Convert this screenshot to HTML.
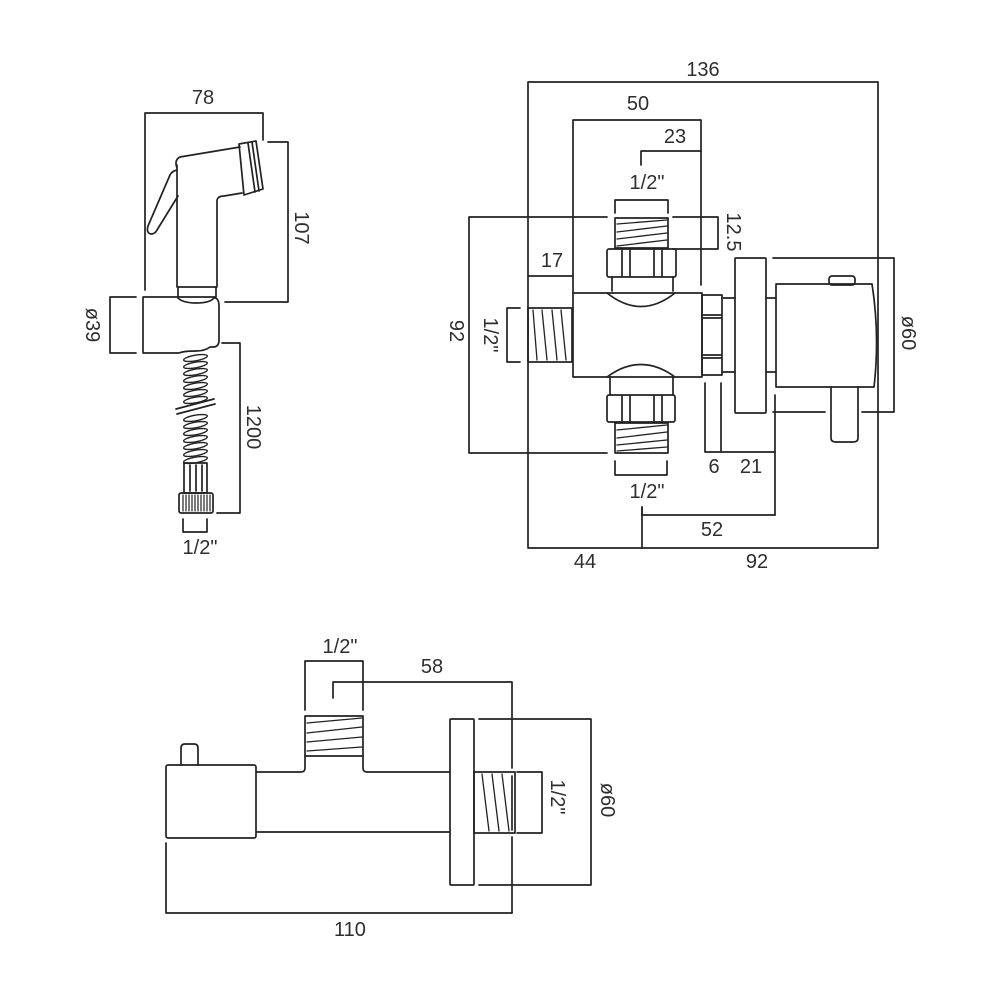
<!DOCTYPE html>
<html>
<head>
<meta charset="utf-8">
<style>
  html,body{margin:0;padding:0;background:#fff;}
  svg{display:block;}
  text{font-family:"Liberation Sans",sans-serif;font-size:20px;fill:#2e2e2e;text-anchor:middle;dominant-baseline:central;}
</style>
</head>
<body>
<svg width="1000" height="1000" viewBox="0 0 1000 1000" xmlns="http://www.w3.org/2000/svg">
<rect width="1000" height="1000" fill="#fff"/>
<g stroke="#222" stroke-width="1.7" fill="none" stroke-linejoin="round" stroke-linecap="round">

<!-- ================= HANDSET (top-left) ================= -->
<!-- 78 dim -->
<polyline points="145,290 145,113 263,113 263,140"/>
<!-- 107 dim -->
<polyline points="268,142 288,142 288,302 225,302"/>
<!-- ø39 dim -->
<polyline points="136,297 110,297 110,353 136,353"/>
<!-- 1200 dim -->
<polyline points="222,343 240,343 240,513 217,513"/>
<!-- 1/2 bottom -->
<polyline points="183,519 183,532 207,532 207,519"/>

<!-- head -->
<path d="M177,168 Q174,160 180,157 L240,147"/>
<path d="M177,165 L177,287"/>
<path d="M217,287 L217,200 Q218,196 224,196 L242,193"/>
<!-- nozzle -->
<polygon points="239,144 256,141 263,189 244,195"/>
<path d="M248,143 L255,192"/>
<path d="M252,142 L259,191"/>
<!-- lever -->
<path d="M177,170 Q172,171 170,175 L148,226 Q146,233 151,234 Q155,234 157,230 L178,196"/>
<!-- collar -->
<rect x="178" y="287" width="38" height="10"/>
<!-- holder -->
<path d="M143,297 L177,297 Q182,303 196,303 Q210,303 214,298 L216,298 Q219,300 219,306 L219,340 Q219,347 213,347 L210,347 Q205,351 196,351 Q184,351 179,353 L143,353 Z"/>

<!-- hose coils -->
<g stroke-width="1.4">
<ellipse cx="195.5" cy="358" rx="12" ry="2.8" transform="rotate(-10 195.5 358)"/>
<ellipse cx="195.5" cy="365" rx="12" ry="2.8" transform="rotate(-10 195.5 365)"/>
<ellipse cx="195.5" cy="372" rx="12" ry="2.8" transform="rotate(-10 195.5 372)"/>
<ellipse cx="195.5" cy="379" rx="12" ry="2.8" transform="rotate(-10 195.5 379)"/>
<ellipse cx="195.5" cy="386" rx="12" ry="2.8" transform="rotate(-10 195.5 386)"/>
<ellipse cx="195.5" cy="393" rx="12" ry="2.8" transform="rotate(-10 195.5 393)"/>
<ellipse cx="195.5" cy="400" rx="12" ry="2.8" transform="rotate(-10 195.5 400)"/>
<ellipse cx="195.5" cy="418" rx="12" ry="2.8" transform="rotate(-10 195.5 418)"/>
<ellipse cx="195.5" cy="425" rx="12" ry="2.8" transform="rotate(-10 195.5 425)"/>
<ellipse cx="195.5" cy="432" rx="12" ry="2.8" transform="rotate(-10 195.5 432)"/>
<ellipse cx="195.5" cy="439" rx="12" ry="2.8" transform="rotate(-10 195.5 439)"/>
<ellipse cx="195.5" cy="446" rx="12" ry="2.8" transform="rotate(-10 195.5 446)"/>
<ellipse cx="195.5" cy="453" rx="12" ry="2.8" transform="rotate(-10 195.5 453)"/>
<ellipse cx="195.5" cy="460" rx="12" ry="2.8" transform="rotate(-10 195.5 460)"/>
</g>
<!-- break lines -->
<path d="M176,409 L214,399"/>
<path d="M177,414 L215,404"/>
<!-- hose fitting -->
<rect x="184" y="463" width="23" height="30"/>
<path d="M190,465 V491 M196,465 V491 M202,465 V491"/>
<rect x="179" y="493" width="34" height="20" rx="2"/>
<path stroke-width="1.2" d="M183,495V511 M186,495V511 M189,495V511 M192,495V511 M195,495V511 M198,495V511 M201,495V511 M204,495V511 M207,495V511 M210,495V511"/>

<!-- ================= VALVE (top-right) ================= -->
<!-- 136 / 44 / 92 outer -->
<polyline points="528,548 528,82 878,82 878,548 528,548"/>
<!-- 50 -->
<polyline points="573,293 573,120 701,120 701,285"/>
<!-- 23 -->
<polyline points="641,165 641,151 701,151"/>
<!-- top 1/2 bracket -->
<polyline points="615,213 615,200 668,200 668,213"/>
<!-- 92 vertical dim -->
<polyline points="607,217 469,217 469,453 607,453"/>
<!-- 12.5 -->
<polyline points="673,217 718,217 718,249 673,249"/>
<!-- 17 -->
<line x1="528" y1="276" x2="573" y2="276"/>
<!-- left 1/2 bracket -->
<polyline points="520,308 507,308 507,362 520,362"/>

<!-- top thread -->
<rect x="615" y="218" width="53" height="30"/>
<path stroke-width="1.3" d="M617,224 L667,220 M617,232 L667,226 M617,239 L667,233 M617,246 L667,240"/>
<!-- top nut -->
<rect x="607" y="249" width="69" height="28" rx="2"/>
<path d="M622,250V276 M630,250V276 M654,250V276 M662,250V276"/>
<!-- neck top -->
<path d="M612,277 V291 M673,277 V291"/>
<!-- main body -->
<rect x="573" y="293" width="129" height="84"/>
<!-- top dome -->
<path d="M607,293 Q641,320 675,293"/>
<!-- bottom dome -->
<path d="M607,377 Q641,352 675,377"/>
<!-- bottom neck -->
<path d="M610,377 V395 M673,377 V395"/>
<!-- bottom nut -->
<rect x="607" y="395" width="68" height="27" rx="2"/>
<path d="M622,396V421 M630,396V421 M654,396V421 M662,396V421"/>
<!-- bottom thread -->
<rect x="615" y="423" width="53" height="30"/>
<path stroke-width="1.3" d="M617,430 L667,425 M617,438 L667,432 M617,445 L667,440 M617,451 L667,447"/>
<!-- bottom 1/2 bracket -->
<polyline points="615,461 615,475 667,475 667,461"/>
<!-- left thread -->
<rect x="528" y="308" width="44" height="54"/>
<path stroke-width="1.3" d="M533,310 L537,360 M542,310 L547,360 M552,310 L557,360 M561,310 L566,360"/>

<!-- right small nut -->
<rect x="702" y="295" width="20" height="80"/>
<path d="M703,315H721 M703,318H721 M703,355H721 M703,358H721"/>
<!-- pipe to flange -->
<path d="M722,298 H735 M722,372 H735"/>
<!-- flange -->
<rect x="735" y="258" width="31" height="155" rx="1"/>
<path d="M766,298 H776 M766,372 H776"/>
<!-- handle body -->
<path d="M776,284 L872,284 Q880,335 874,387 L776,387 Z"/>
<!-- knob -->
<rect x="829" y="276" width="26" height="9" rx="3"/>
<!-- lever -->
<path d="M831,387 V438 Q831,442 836,442 L853,442 Q858,442 858,438 V387"/>
<!-- ø60 dim -->
<polyline points="773,258 894,258 894,412 862,412"/>
<line x1="773" y1="412" x2="825" y2="412"/>
<!-- 6 / 21 -->
<path d="M705,383 V452 H775 M721,383 V452"/>
<line x1="775" y1="395" x2="775" y2="515"/>
<!-- 52 -->
<polyline points="642,507 642,515 775,515"/>
<line x1="642" y1="507" x2="642" y2="548"/>

<!-- ================= BOTTOM VIEW ================= -->
<!-- top 1/2 bracket -->
<polyline points="305,710 305,661 363,661 363,710"/>
<!-- 58 -->
<polyline points="333,698 333,682 512,682 512,768"/>
<line x1="512" y1="776" x2="512" y2="830"/>
<line x1="512" y1="837" x2="512" y2="913"/>
<!-- 110 -->
<polyline points="166,843 166,913 512,913"/>
<!-- thread on top -->
<rect x="305" y="716" width="58" height="40"/>
<path stroke-width="1.3" d="M307,723 L362,718 M307,733 L362,727 M307,742 L362,737 M307,751 L362,747"/>
<!-- pipe -->
<path d="M257,772 L301,772 Q305,772 305,768 L305,756"/>
<path d="M363,756 L363,768 Q363,772 367,772 L450,772"/>
<line x1="257" y1="832" x2="450" y2="832"/>
<!-- handle block -->
<rect x="166" y="765" width="90" height="73" rx="2"/>
<path d="M181,765 V748 Q181,744 185,744 L194,744 Q198,744 198,748 V765"/>
<!-- flange -->
<rect x="450" y="719" width="24" height="166" rx="1"/>
<!-- outlet thread -->
<rect x="474" y="772" width="41" height="61"/>
<path stroke-width="1.3" d="M482,774 L489,831 M492,774 L499,831 M502,774 L509,831"/>
<!-- right 1/2 bracket -->
<polyline points="517,772 542,772 542,833 517,833"/>
<!-- ø60 -->
<polyline points="479,719 591,719 591,885 479,885"/>
</g>

<!-- ================= LABELS ================= -->
<text x="203" y="98">78</text>
<text transform="translate(301,228) rotate(90)">107</text>
<text transform="translate(92,325) rotate(90)">ø39</text>
<text transform="translate(253,427) rotate(90)">1200</text>
<text x="200" y="548">1/2"</text>

<text x="703" y="70">136</text>
<text x="638" y="104">50</text>
<text x="675" y="137">23</text>
<text x="647" y="183">1/2"</text>
<text transform="translate(733,232) rotate(90)">12.5</text>
<text x="552" y="261">17</text>
<text transform="translate(456,331) rotate(90)">92</text>
<text transform="translate(490,335) rotate(90)">1/2"</text>
<text transform="translate(908,333) rotate(90)">ø60</text>
<text x="714" y="467">6</text>
<text x="751" y="467">21</text>
<text x="647" y="492">1/2"</text>
<text x="712" y="530">52</text>
<text x="585" y="562">44</text>
<text x="757" y="562">92</text>

<text x="340" y="647">1/2"</text>
<text x="432" y="667">58</text>
<text transform="translate(557,797) rotate(90)">1/2"</text>
<text transform="translate(607,800) rotate(90)">ø60</text>
<text x="350" y="930">110</text>
</svg>
</body>
</html>
